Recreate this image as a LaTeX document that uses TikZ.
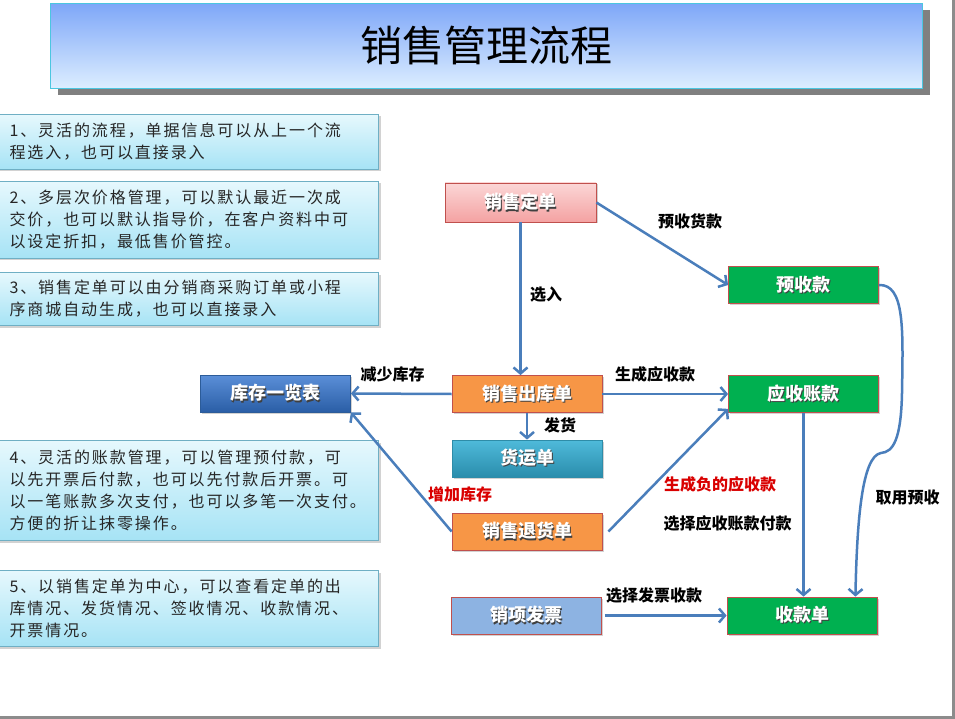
\documentclass[tikz,border=0pt]{standalone}
\usepackage{fontspec}
\setmainfont{Noto Sans CJK SC}
\newfontfamily\notefont{Noto Sans CJK SC}[LetterSpace=12]
\usetikzlibrary{arrows.meta,shadows}
\definecolor{arrowblue}{HTML}{4A7EBB}
\definecolor{boxred}{HTML}{C0504D}
\definecolor{okgreen}{HTML}{00B050}
\definecolor{okorange}{HTML}{F79646}
\definecolor{invblue}{HTML}{8DB3E2}
\definecolor{noteborder}{HTML}{6FAFC4}
\definecolor{notetop}{HTML}{E6F8FD}
\definecolor{notebot}{HTML}{A6E3F5}
\definecolor{titleborder}{HTML}{4BC6E0}
\definecolor{titletop}{HTML}{7EA7F8}
\definecolor{titlebot}{HTML}{DDEEFF}
\definecolor{pinktop}{HTML}{FBD6D6}
\definecolor{pinkbot}{HTML}{F4A2A2}
\definecolor{stockborder}{HTML}{2C5C99}
\definecolor{stocktop}{HTML}{5B8FD8}
\definecolor{stockbot}{HTML}{2A5EA6}
\definecolor{shipborder}{HTML}{2E8CA8}
\definecolor{shiptop}{HTML}{4FBADA}
\definecolor{shipbot}{HTML}{2A8DAC}
\newcommand{\shadowtxt}[1]{\makebox[0pt][l]{\hspace{1.3pt}\raisebox{-1.3pt}{\textcolor{black!75}{#1}}}#1}
\tikzset{
  flowbox/.style={minimum width=150pt, minimum height=37pt, inner sep=0pt, line width=0.8pt,
    font=\fontsize{18}{18}\selectfont\bfseries, text=white,
    drop shadow={shadow xshift=1.5pt, shadow yshift=-1.5pt, opacity=0.35}},
  notebox/.style={anchor=north west, minimum width=380pt, text width=358pt, inner xsep=11pt,
    align=left, draw=noteborder, line width=1pt, top color=notetop, bottom color=notebot,
    font=\notefont\fontsize{16}{22}\selectfont, text=black!85,
    drop shadow={shadow xshift=2pt, shadow yshift=-2pt, opacity=0.35}},
  conn/.style={draw=arrowblue, line width=2.5pt, -{Straight Barb[length=6pt,width=14pt,line width=2.5pt]}},
  lab/.style={font=\fontsize{16}{16}\selectfont\bfseries, text=black, inner sep=0pt},
  redlab/.style={lab, text=red!85!black},
}
\begin{document}
\begin{tikzpicture}[x=1pt,y=-1pt]
\useasboundingbox (0,0) rectangle (955,719);
\fill[white] (0,0) rectangle (955,719);
% slide frame
\draw[black!45, line width=3pt] (953,0) -- (953,717) -- (0,717);
% title
\node[anchor=north west, minimum width=872pt, minimum height=85pt, inner sep=0pt,
  draw=titleborder, line width=1pt, top color=titletop, bottom color=titlebot,
  drop shadow={shadow xshift=7pt, shadow yshift=-7pt, fill=black!50, opacity=1},
  font=\fontsize{42}{42}\selectfont] (title) at (50,3) {销售管理流程};
% notes
\node[notebox, minimum height=55pt] (n1) at (-2,114) {1、灵活的流程，单据信息可以从上一个流\\程选入，也可以直接录入};
\node[notebox, minimum height=77pt] (n2) at (-2,181) {2、多层次价格管理，可以默认最近一次成\\交价，也可以默认指导价，在客户资料中可\\以设定折扣，最低售价管控。};
\node[notebox, minimum height=53pt] (n3) at (-2,272) {3、销售定单可以由分销商采购订单或小程\\序商城自动生成，也可以直接录入};
\node[notebox, minimum height=100pt] (n4) at (-2,440) {4、灵活的账款管理，可以管理预付款，可\\以先开票后付款，也可以先付款后开票。可\\以一笔账款多次支付，也可以多笔一次支付。\\方便的折让抹零操作。};
\node[notebox, minimum height=76pt] (n5) at (-2,570) {5、以销售定单为中心，可以查看定单的出\\库情况、发货情况、签收情况、收款情况、\\开票情况。};
% flow boxes
\node[flowbox, minimum width=151pt, minimum height=39pt, draw=boxred, top color=pinktop, bottom color=pinkbot] (dingdan) at (520.5,202.5) {\shadowtxt{销售定单}};
\node[flowbox, draw=boxred, fill=okgreen] (yushou) at (803.5,285) {\shadowtxt{预收款}};
\node[flowbox, draw=boxred, fill=okgreen] (yingshou) at (803.5,394) {\shadowtxt{应收账款}};
\node[flowbox, draw=boxred, fill=okorange] (chuku) at (527,394) {\shadowtxt{销售出库单}};
\node[flowbox, draw=stockborder, top color=stocktop, bottom color=stockbot] (kucun) at (275.5,393.5) {\shadowtxt{库存一览表}};
\node[flowbox, draw=shipborder, top color=shiptop, bottom color=shipbot] (huoyun) at (527,458.5) {\shadowtxt{货运单}};
\node[flowbox, draw=boxred, fill=okorange] (tuihuo) at (527,531.5) {\shadowtxt{销售退货单}};
\node[flowbox, draw=boxred, fill=invblue] (fapiao) at (526.5,615.5) {\shadowtxt{销项发票}};
\node[flowbox, draw=boxred, fill=okgreen] (shoukuan) at (802,615.5) {\shadowtxt{收款单}};
% connectors
\draw[conn] (dingdan.south) -- (dingdan.south |- chuku.north);
\draw[conn] (dingdan.east) -- (yushou.west);
\draw[conn] (chuku.east) -- (yingshou.west);
\draw[conn] (chuku.west) -- (kucun.east);
\draw[conn] (chuku.south) -- (huoyun.north);
\draw[conn] (tuihuo.west) -- (kucun.south east);
\draw[conn] ([xshift=6pt]tuihuo.east) -- ([yshift=4pt]yingshou.south west);
\draw[conn] (yingshou.south) -- (yingshou.south |- shoukuan.north);
\draw[conn] ([xshift=3pt]fapiao.east) -- (shoukuan.west);
\draw[conn] (yushou.east) .. controls (905,284) and (903,330) .. (902,393)
  .. controls (901,440) and (893,452) .. (881,453)
  .. controls (862,456) and (857,520) .. ([xshift=-22pt]shoukuan.north east);
% labels
\node[lab] (l1) at (690,221) {预收货款};
\node[lab] (l2) at (546,295) {选入};
\node[lab] (l3) at (655,374) {生成应收款};
\node[lab] (l4) at (392.5,374) {减少库存};
\node[lab] (l5) at (560,425) {发货};
\node[redlab] (l6) at (460,494) {增加库存};
\node[redlab] (l7) at (720,484) {生成负的应收款};
\node[lab] (l8) at (727.5,523) {选择应收账款付款};
\node[lab] (l9) at (654,595) {选择发票收款};
\node[lab] (l10) at (907.5,497.5) {取用预收};
\end{tikzpicture}
\end{document}
